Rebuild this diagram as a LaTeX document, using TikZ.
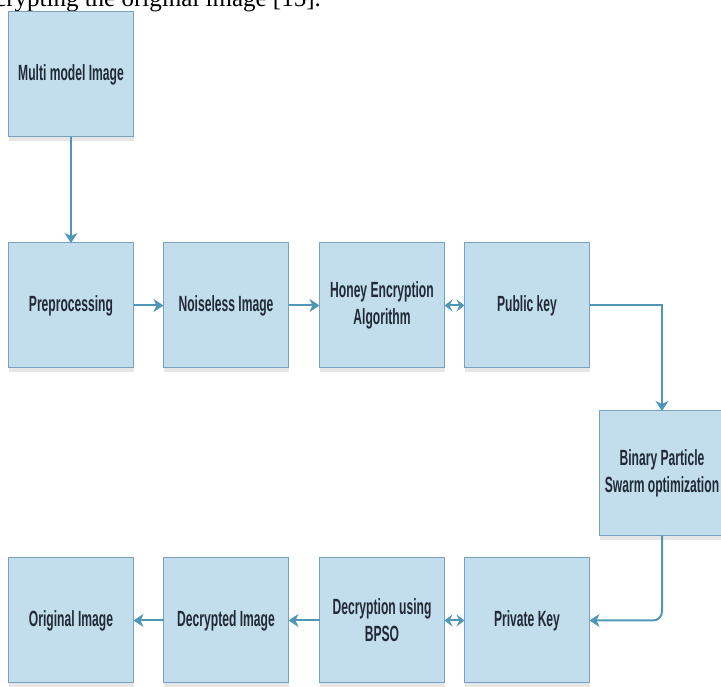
\documentclass[tikz,border=0pt]{standalone}
\usepackage{fontspec}
\usepackage{xcolor}
\usetikzlibrary{shapes,arrows.meta,positioning,shadows}
\newfontfamily\boxfont[FakeStretch=0.55]{Liberation Sans}
\newfontfamily\paperfont{Liberation Serif}
\definecolor{boxfill}{RGB}{194,222,236}
\definecolor{boxline}{RGB}{122,162,192}
\definecolor{flowline}{RGB}{80,150,182}
\definecolor{boxtext}{RGB}{34,42,54}

\begin{document}
\begin{tikzpicture}[node distance=30pt]
  \tikzstyle{block} = [rectangle, draw=boxline, line width=1pt, outer sep=0pt, fill=boxfill, minimum width=125pt, minimum height=125pt, align=center, text=boxtext, font=\boxfont\bfseries\fontsize{22}{27}\selectfont, drop shadow={opacity=0.2, shadow xshift=0pt, shadow yshift=-4pt}]
  \tikzstyle{arrow} = [line width=2pt, draw=flowline, -{Stealth[length=10pt,width=13pt,inset=3pt]}]
  \tikzstyle{both} = [line width=2pt, draw=flowline, {Stealth[length=8pt,width=12pt,inset=3pt]}-{Stealth[length=8pt,width=12pt,inset=3pt]}]

  \useasboundingbox (0,0) rectangle (721pt,687pt);

  % cut-off line of the paper above the figure
  \node [font=\paperfont\fontsize{25}{30}\selectfont, anchor=base east, inner sep=0pt] (caption) at (321pt,680pt) {crypting the original image [15].};

  \node [block] (prep) at (71pt,381.5pt) {Preprocessing};
  \node [block, above=106pt of prep] (multi) {Multi model Image};
  \node [block, right=of prep] (noise) {Noiseless Image};
  \node [block, right=31pt of noise] (honey) {Honey Encryption\\Algorithm};
  \node [block, right=20pt of honey] (public) {Public key};
  \node [block, below right=43pt and 10pt of public.south east] (bpso) {Binary Particle\\Swarm optimization};

  \node [block, below=190pt of prep] (orig) {Original Image};
  \node [block, right=of orig] (decimg) {Decrypted Image};
  \node [block, right=31pt of decimg] (decuse) {Decryption using\\BPSO};
  \node [block, right=20pt of decuse] (private) {Private Key};

  \draw [arrow] (multi) -- (prep);
  \draw [arrow] (prep) -- (noise);
  \draw [arrow] (noise) -- (honey);
  \draw [both] (honey) -- (public);
  \draw [arrow] (public.east) -| (bpso.north);
  \draw [arrow, rounded corners=9pt] (bpso.south) |- (private.east);
  \draw [both] (decuse) -- (private);
  \draw [arrow] (decuse) -- (decimg);
  \draw [arrow] (decimg) -- (orig);
\end{tikzpicture}
\end{document}
